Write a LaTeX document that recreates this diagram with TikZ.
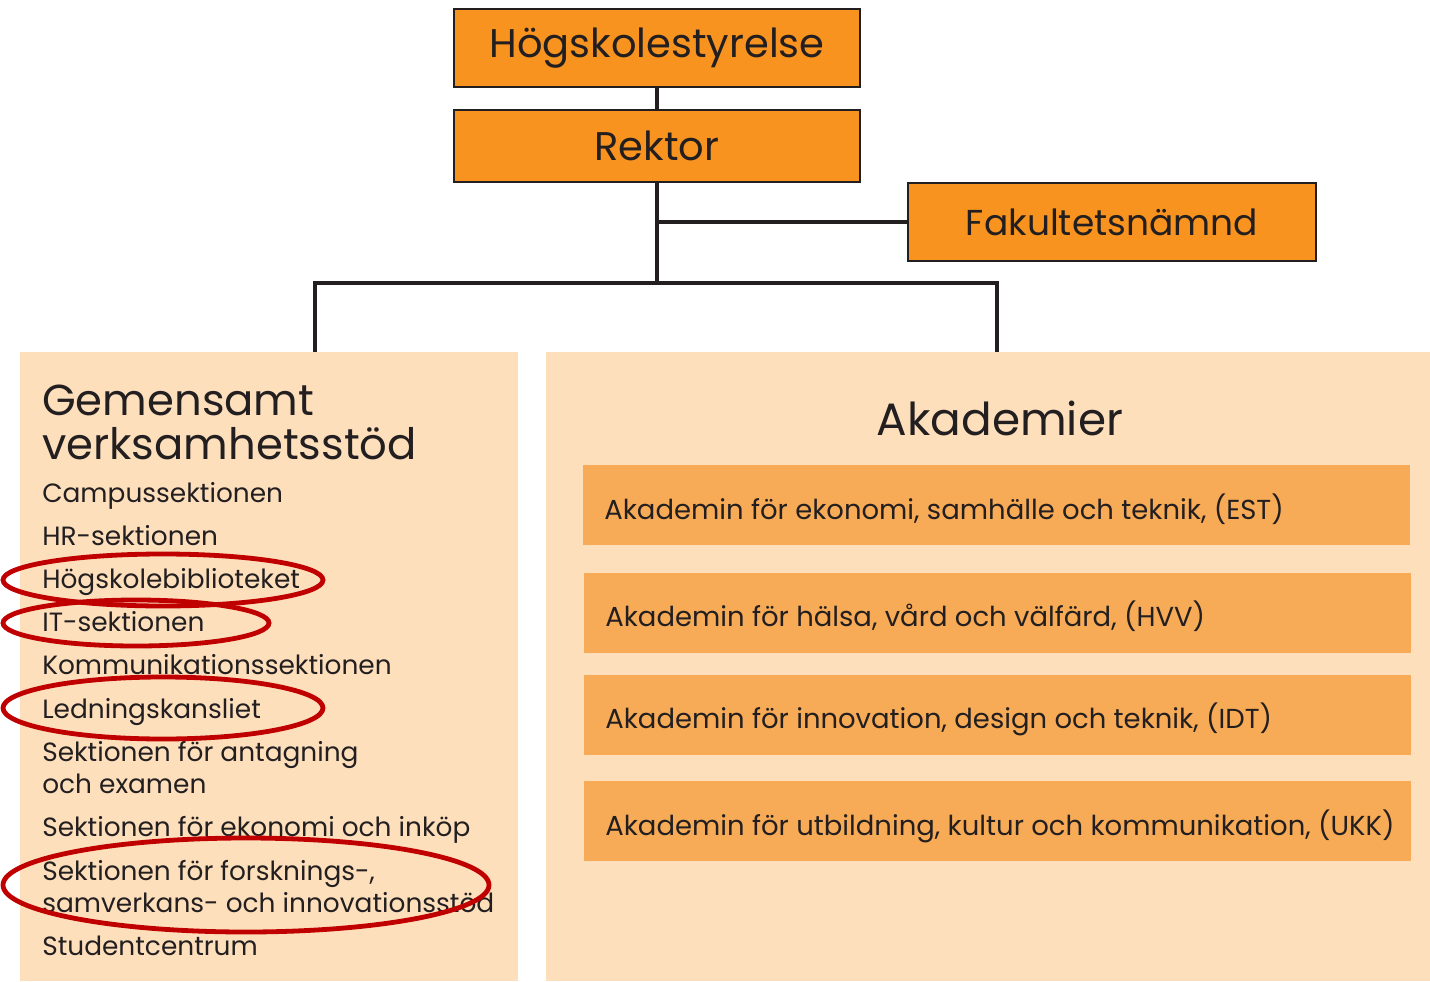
\documentclass[tikz,border=0pt]{standalone}
\usepackage{fontspec}
\setmainfont{Poppins}
\usepackage{xcolor}
\usetikzlibrary{positioning}

\definecolor{boxorange}{HTML}{F7931E}
\definecolor{panelfill}{HTML}{FDDFBC}
\definecolor{akdorange}{HTML}{F8AB56}
\definecolor{inkdark}{HTML}{231F20}
\definecolor{markred}{HTML}{C00000}

\tikzset{
  topbox/.style={draw=inkdark, line width=1.9, fill=boxorange, text=inkdark,
    minimum width=0.75*406pt, minimum height=0.75*78pt, inner sep=0,
    font=\fontsize{30}{36}\selectfont},
  panel/.style={fill=panelfill, anchor=north west, inner sep=0},
  akdbox/.style={fill=akdorange, anchor=north west, inner sep=0,
    minimum width=0.75*827pt, minimum height=0.75*80pt},
  akdtext/.style={anchor=base west, inner sep=0, text=inkdark,
    font=\fontsize{20.6}{24}\selectfont},
  item/.style={anchor=base west, inner sep=0, text=inkdark, align=left,
    font=\fontsize{19.8}{24}\selectfont},
  link/.style={draw=inkdark, line width=3},
  ring/.style={draw=markred, line width=3.6}
}

\begin{document}
\begin{tikzpicture}[x=0.75pt, y=-0.75pt]
    \useasboundingbox (0,0) rectangle (1430,981);
    % Ledning
    \node[topbox] (hs) at (657, 48) {Högskolestyrelse};
    \node[topbox, minimum height=0.75*72pt] (rek) at (657, 146) {Rektor};
    \node[topbox, minimum width=0.75*408pt, font=\fontsize{27}{32}\selectfont] (fak) at (1112, 222) {Fakultetsnämnd};
    % Panels
    \node[panel, minimum width=0.75*498pt, minimum height=0.75*629pt] (gvs) at (20, 352) {};
    \node[panel, minimum width=0.75*884pt, minimum height=0.75*629pt] (akd) at (546, 352) {};
    % Lines
    \coordinate (fork) at (657, 283);
    \coordinate (gvstop) at (315, 352);
    \coordinate (akdtop) at (997, 352);
    \draw[link] (hs) -- (rek);
    \draw[link] (rek) -- (fork);
    \draw[link] (fak) -- (fak -| rek);
    \draw[link] (gvstop) |- (fork) -| (akdtop);
    % Gemensamt verksamhetsstod
    \node[item, font=\fontsize{32.5}{33}\selectfont] (gvshead) at (42, 459) {Gemensamt\\verksamhetsstöd};
    \node[item] (campus) at (42, 502) {Campussektionen};
    \node[item] (hr)     at (42, 545) {HR-sektionen};
    \node[item] (bibl)   at (42, 588) {Högskolebiblioteket};
    \node[item] (it)     at (42, 631) {IT-sektionen};
    \node[item] (komm)   at (42, 674) {Kommunikationssektionen};
    \node[item] (led)    at (42, 718) {Ledningskansliet};
    \node[item] (antag)  at (42, 793) {Sektionen för antagning\\och examen};
    \node[item] (ekon)   at (42, 836) {Sektionen för ekonomi och inköp};
    \node[item] (forsk)  at (42, 912) {Sektionen för forsknings-,\\samverkans- och innovationsstöd};
    \node[item] (stud)   at (42, 955) {Studentcentrum};
    % Markeringar
    \draw[ring] (163, 580) ellipse [x radius=160, y radius=26];
    \draw[ring] (136, 623) ellipse [x radius=133, y radius=23];
    \draw[ring] (163, 708) ellipse [x radius=160, y radius=31];
    \draw[ring] (246, 885) ellipse [x radius=243, y radius=47];
    % Akademier
    \node[anchor=base, inner sep=0, text=inkdark, font=\fontsize{34}{36}\selectfont] (akdhead) at (1000, 435) {Akademier};
    \node[akdbox] (est) at (583, 465) {};
    \node[akdbox] (hvv) at (584, 573) {};
    \node[akdbox] (idt) at (584, 675) {};
    \node[akdbox] (ukk) at (584, 781) {};
    \node[akdtext] at (604, 519) {Akademin för ekonomi, samhälle och teknik, (EST)};
    \node[akdtext] at (605, 626) {Akademin för hälsa, vård och välfärd, (HVV)};
    \node[akdtext] at (605, 728) {Akademin för innovation, design och teknik, (IDT)};
    \node[akdtext] at (605, 835) {Akademin för utbildning, kultur och kommunikation, (UKK)};
\end{tikzpicture}
\end{document}
